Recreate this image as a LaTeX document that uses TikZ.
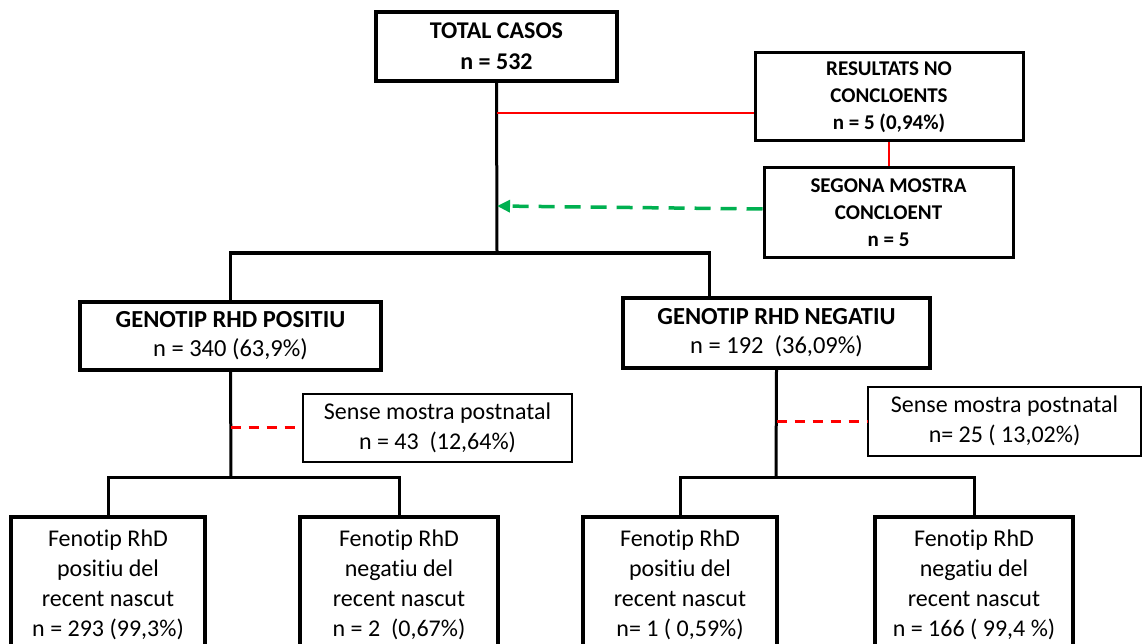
\documentclass[tikz,border=0pt]{standalone}
\usepackage{fontspec}
\setmainfont{Carlito}[Ligatures=NoCommon]
\usetikzlibrary{arrows.meta}
\definecolor{linkred}{RGB}{255,0,0}
\definecolor{linkgreen}{RGB}{0,176,80}
\begin{document}
\begin{tikzpicture}[x=1pt,y=-1pt,
  box/.style={draw=black, rectangle, align=center, inner sep=0pt, fill=white},
  heavybox/.style={box, line width=4pt},
  midbox/.style={box, line width=3pt},
  lightbox/.style={box, line width=2pt},
  headfont/.style={font=\bfseries\fontsize{24}{31}\selectfont},
  genofont/.style={font=\fontsize{24.5}{29}\selectfont},
  smallbold/.style={font=\bfseries\fontsize{21}{27}\selectfont},
  plainfont/.style={font=\fontsize{24}{30}\selectfont},
  conn/.style={draw=black, line width=3pt},
  redlink/.style={draw=linkred, line width=2.5pt},
  reddash/.style={draw=linkred, line width=3pt, dash pattern=on 10pt off 8pt},
  greendash/.style={draw=linkgreen, line width=3.5pt, dash pattern=on 16pt off 10pt,
    -{Triangle[length=13pt,width=12pt]}}
]
\clip (0,0) rectangle (1142,644);
\fill[white] (0,0) rectangle (1142,644);

% top of the tree
\node[heavybox, headfont, minimum width=241pt, minimum height=69pt] (total) at (496.5,46.5)
  {TOTAL CASOS\\n = 532};
\node[midbox, smallbold, minimum width=268pt, minimum height=88pt] (res) at (889,97)
  {RESULTATS NO\\CONCLOENTS\\n = 5 (0,94\%)};
\node[midbox, smallbold, minimum width=249pt, minimum height=89pt] (seg) at (888.5,212.5)
  {SEGONA MOSTRA\\CONCLOENT\\n = 5};

% genotype boxes
\node[heavybox, genofont, minimum width=301pt, minimum height=68pt] (pos) at (230.5,336)
  {\textbf{GENOTIP RHD POSITIU}\\n = 340 (63,9\%)};
\node[heavybox, genofont, minimum width=307pt, minimum height=70pt] (neg) at (776.5,332.5)
  {\textbf{GENOTIP RHD NEGATIU}\\n = 192\ \ (36,09\%)};

% samples missing after birth
\node[lightbox, plainfont, minimum width=269pt, minimum height=68pt] (sensep) at (437.5,427.5)
  {Sense mostra postnatal\\n = 43\ \ (12,64\%)};
\node[lightbox, plainfont, minimum width=273pt, minimum height=69pt] (sensen) at (1004.5,421)
  {Sense mostra postnatal\\n= 25 ( 13,02\%)};

% newborn phenotype boxes
\node[heavybox, plainfont, minimum width=194pt, minimum height=136pt] (f1) at (108,585)
  {Fenotip RhD\\positiu del\\recent nascut\\n = 293 (99,3\%)};
\node[heavybox, plainfont, minimum width=198pt, minimum height=136pt] (f2) at (399,585)
  {Fenotip RhD\\negatiu del\\recent nascut\\n = 2\ \ (0,67\%)};
\node[heavybox, plainfont, minimum width=194pt, minimum height=136pt] (f3) at (680,585)
  {Fenotip RhD\\positiu del\\recent nascut\\n= 1 ( 0,59\%)};
\node[heavybox, plainfont, minimum width=198pt, minimum height=136pt] (f4) at (974,585)
  {Fenotip RhD\\negatiu del\\recent nascut\\n = 166 ( 99,4 \%)};

% junction points
\coordinate (split) at (497,253);
\coordinate (redtap) at (497,113);
\coordinate (greentap) at (497,206);
\coordinate (negin) at (709,297);
\coordinate (possplit) at (231,477);
\coordinate (negsplit) at (776,477);

% main trunk and first split
\draw[conn] (total.south) -- (split);
\draw[conn] (pos.north) |- (split) -| (negin);

% inconclusive results and second sample
\draw[redlink] (redtap) -- (redtap -| res.west);
\draw[redlink] (res.south) -- (res.south |- seg.north);
\draw[greendash] ([yshift=3.5pt]seg.west) -- (greentap);

% positive branch
\draw[conn] (pos.south) -- (possplit);
\draw[reddash] (sensep.west -| pos.south) -- (sensep.west);
\draw[conn] (f1.north) |- (possplit) -| (f2.north);

% negative branch
\draw[conn] (neg.south) -- (negsplit);
\draw[reddash] (sensen.west -| neg.south) -- (sensen.west);
\draw[conn] (f3.north) |- (negsplit) -| (f4.north);
\end{tikzpicture}
\end{document}
